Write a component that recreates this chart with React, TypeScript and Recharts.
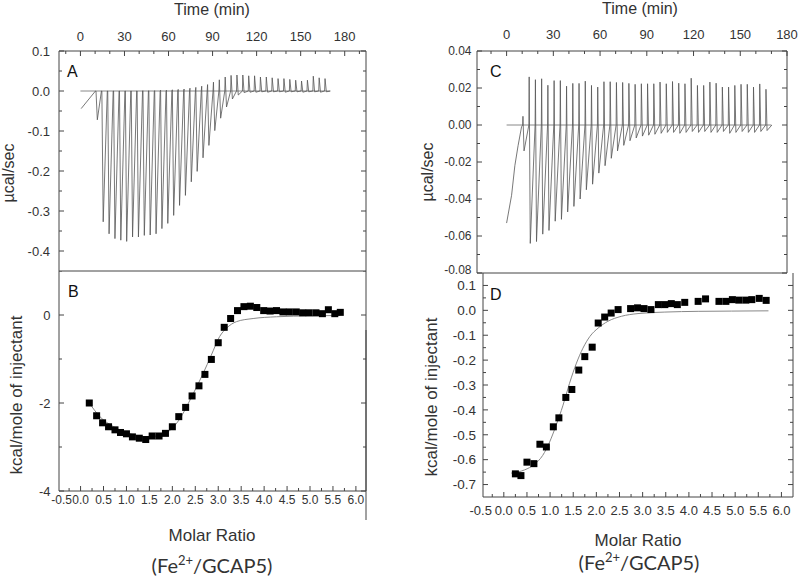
import React from "react";
import { ComposedChart, Line, Scatter, XAxis, YAxis } from "recharts";

// injection schedule (min), same for both titrations
const injectionTimes = [10.3, 14.3, 18.3, 22.3, 26.3, 30.3, 34.3, 38.3, 42.3, 46.3, 50.3, 54.3, 58.3, 62.3, 66.3, 70.3, 74.3, 78.3, 82.3, 86.3, 90.3, 94.3, 98.3, 102.3, 106.3, 110.3, 114.3, 118.3, 122.3, 126.3, 130.3, 134.3, 138.3, 142.3, 146.3, 150.3, 154.3, 158.3, 162.3, 166.3];

// panel A raw trace (µcal/sec)
const driftA = [[0.5, -0.044], [9.8, -0.002]];
const peakUpA = [0, 0, 0, 0, 0, 0, 0, 0, 0.001, 0.001, 0.001, 0.002, 0.002, 0.003, 0.004, 0.005, 0.007, 0.009, 0.012, 0.016, 0.022, 0.028, 0.035, 0.039, 0.04, 0.04, 0.038, 0.038, 0.035, 0.035, 0.033, 0.031, 0.031, 0.029, 0.027, 0.025, 0.027, 0.037, 0.033, 0.031];
const peakDownA = [-0.072, -0.327, -0.357, -0.369, -0.373, -0.376, -0.365, -0.365, -0.361, -0.36, -0.357, -0.344, -0.331, -0.311, -0.286, -0.261, -0.227, -0.201, -0.167, -0.136, -0.099, -0.068, -0.04, -0.02, -0.01, -0.004, -0.003, -0.003, -0.002, -0.003, -0.002, -0.002, -0.003, -0.002, -0.002, -0.003, -0.002, -0.002, -0.003, -0.002];

// panel C raw trace (µcal/sec)
const driftC = [[0, -0.053], [3.2, -0.038], [5.3, -0.022], [7.4, -0.011], [9.6, -0.001]];
const peakUpC = [0.0047, 0.026, 0.0245, 0.025, 0.0215, 0.024, 0.024, 0.021, 0.0225, 0.0225, 0.0237, 0.0214, 0.0205, 0.0234, 0.0234, 0.023, 0.023, 0.0225, 0.022, 0.0223, 0.0223, 0.0223, 0.0232, 0.0223, 0.0235, 0.0226, 0.0223, 0.0253, 0.0214, 0.0214, 0.0232, 0.0226, 0.0205, 0.0205, 0.0214, 0.022, 0.022, 0.0205, 0.0222, 0.0193];
const peakDownC = [-0.014, -0.064, -0.063, -0.059, -0.057, -0.052, -0.051, -0.047, -0.044, -0.04, -0.035, -0.032, -0.026, -0.022, -0.018, -0.014, -0.011, -0.0085, -0.007, -0.006, -0.0055, -0.005, -0.0045, -0.004, -0.004, -0.0045, -0.004, -0.0035, -0.004, -0.0035, -0.004, -0.004, -0.0035, -0.0045, -0.004, -0.0035, -0.004, -0.004, -0.0035, -0.003];

// panel B integrated heats (kcal/mole of injectant)
const ratioB = [0.19, 0.35, 0.48, 0.61, 0.75, 0.87, 1.0, 1.13, 1.28, 1.42, 1.56, 1.71, 1.85, 2.0, 2.14, 2.29, 2.43, 2.58, 2.71, 2.85, 3.0, 3.13, 3.27, 3.42, 3.56, 3.7, 3.84, 3.99, 4.13, 4.27, 4.41, 4.55, 4.7, 4.84, 4.98, 5.13, 5.27, 5.4, 5.54, 5.66];
const heatB = [-2.0, -2.29, -2.45, -2.54, -2.61, -2.67, -2.7, -2.77, -2.8, -2.83, -2.75, -2.75, -2.69, -2.54, -2.31, -2.1, -1.84, -1.61, -1.35, -1.01, -0.63, -0.28, -0.08, 0.1, 0.19, 0.2, 0.17, 0.1, 0.09, 0.1, 0.07, 0.07, 0.07, 0.05, 0.05, 0.05, 0.03, 0.12, 0.03, 0.06];
const fitRatioB = [0.19, 0.42, 0.72, 1.15, 1.43, 1.73, 1.95, 2.15, 2.42, 2.67, 2.85, 3.03, 3.18, 3.4, 3.76, 4.27, 5.0, 5.66];
const fitHeatB = [-2.0, -2.31, -2.54, -2.72, -2.77, -2.74, -2.62, -2.38, -1.86, -1.33, -0.91, -0.49, -0.3, -0.15, -0.08, -0.04, -0.02, -0.01];

// panel D integrated heats
const ratioD = [0.25, 0.37, 0.5, 0.65, 0.78, 0.92, 1.07, 1.19, 1.34, 1.47, 1.62, 1.75, 1.91, 2.04, 2.18, 2.32, 2.47, 2.74, 2.89, 3.03, 3.18, 3.34, 3.48, 3.62, 3.75, 3.91, 4.2, 4.36, 4.65, 4.8, 4.94, 5.08, 5.23, 5.36, 5.52, 5.67];
const heatD = [-0.657, -0.664, -0.61, -0.616, -0.538, -0.549, -0.468, -0.432, -0.35, -0.318, -0.24, -0.186, -0.148, -0.051, -0.027, -0.011, 0.003, 0.007, 0.01, 0.007, 0.003, 0.023, 0.023, 0.027, 0.023, 0.032, 0.036, 0.046, 0.036, 0.036, 0.043, 0.041, 0.041, 0.043, 0.048, 0.04];
const fitRatioD = [0.16, 0.45, 0.66, 0.84, 0.99, 1.13, 1.28, 1.42, 1.57, 1.71, 1.86, 2.04, 2.25, 2.54, 2.9, 3.48, 4.2, 4.92, 5.72];
const fitHeatD = [-0.654, -0.641, -0.619, -0.583, -0.529, -0.462, -0.381, -0.293, -0.212, -0.152, -0.105, -0.071, -0.044, -0.024, -0.013, -0.007, -0.004, -0.003, -0.002];

// tick labels
const timeTicksA = [-10, 0, 10, 20, 30, 40, 50, 60, 70, 80, 90, 100, 110, 120, 130, 140, 150, 160, 170, 180, 190];
const timeTicksC = [-10, 0, 10, 20, 30, 40, 50, 60, 70, 80, 90, 100, 110, 120, 130, 140, 150, 160, 170, 180];
const timeLabels = [0, 30, 60, 90, 120, 150, 180];
const yTicksA = [0.1, 0.05, 0, -0.05, -0.1, -0.15, -0.2, -0.25, -0.3, -0.35, -0.4];
const yLabelsA = [0.1, 0, -0.1, -0.2, -0.3, -0.4];
const yTicksB = [1, 0, -1, -2, -3, -4];
const yLabelsB = [0, -2, -4];
const yTicksC = [0.04, 0.03, 0.02, 0.01, 0, -0.01, -0.02, -0.03, -0.04, -0.05, -0.06, -0.07, -0.08];
const yLabelsC = [0.04, 0.02, 0, -0.02, -0.04, -0.06, -0.08];
const yTicksD = [0.1, 0.05, 0, -0.05, -0.1, -0.15, -0.2, -0.25, -0.3, -0.35, -0.4, -0.45, -0.5, -0.55, -0.6, -0.65, -0.7];
const yLabelsD = [0.1, 0, -0.1, -0.2, -0.3, -0.4, -0.5, -0.6, -0.7];
const ratioTicks = [-0.5, -0.25, 0, 0.25, 0.5, 0.75, 1, 1.25, 1.5, 1.75, 2, 2.25, 2.5, 2.75, 3, 3.25, 3.5, 3.75, 4, 4.25, 4.5, 4.75, 5, 5.25, 5.5, 5.75, 6];
const ratioLabels = [-0.5, 0, 0.5, 1, 1.5, 2, 2.5, 3, 3.5, 4, 4.5, 5, 5.5, 6];

const FRAME = "#444";
const TXT = "#333";
const FONT = "'Liberation Sans', Arial, sans-serif";

type Side = "top" | "bottom" | "left" | "right";
type Dom = [number, number];

// inward tick marks (Origin style); labels sitting on the frame edge can be nudged
function makeTick(side: Side, labels: number[], dom: Dom, gap: number, fmt: ((v: number) => string) | null, fontSize = 13, edgeShift = 0) {
  return (props: any) => {
    const x = Number(props.x);
    const y = Number(props.y);
    const v = Number(props.payload?.value);
    const major = labels.some((m) => Math.abs(m - v) < 1e-6);
    const len = major ? 5 : 3;
    const inside = v >= dom[0] - 1e-9 && v <= dom[1] + 1e-9;
    const label = major && fmt ? fmt(v) : "";
    const ts = { fill: TXT, fontSize, fontFamily: FONT, stroke: "none" };
    let ln: any = null;
    let tx: any = null;
    if (side === "left") {
      const ax = x + gap;
      const ly = Math.abs(v - dom[0]) < 1e-9 ? y - edgeShift : y;
      if (inside) ln = <line x1={ax} y1={y} x2={ax + len} y2={y} />;
      if (label) tx = <text x={x} y={ly} dy="0.35em" textAnchor="end" {...ts}>{label}</text>;
    } else if (side === "right") {
      if (inside) ln = <line x1={x} y1={y} x2={x - len} y2={y} />;
    } else if (side === "top") {
      const ax = y + gap;
      if (inside) ln = <line x1={x} y1={ax} x2={x} y2={ax + len} />;
      if (label) tx = <text x={x} y={y} textAnchor="middle" {...ts}>{label}</text>;
    } else {
      const ax = y - gap;
      if (inside) ln = <line x1={x} y1={ax} x2={x} y2={ax - len} />;
      if (label) tx = <text x={inside ? x : x + edgeShift} y={y} dy="0.71em" textAnchor="middle" {...ts}>{label}</text>;
    }
    return (
      <g>
        {ln ? <g stroke={FRAME} strokeWidth={1}>{ln}</g> : null}
        {tx}
      </g>
    );
  };
}

function buildTrace(drift: number[][], up: number[], down: number[], riseAt: number, dropAt: number) {
  const pts = drift.map(([t, v]) => ({ t, v }));
  injectionTimes.forEach((t0, i) => {
    pts.push({ t: t0, v: 0 });
    pts.push({ t: t0 + riseAt, v: up[i] });
    pts.push({ t: t0 + dropAt, v: down[i] });
  });
  pts.push({ t: injectionTimes[injectionTimes.length - 1] + 4, v: 0 });
  return pts;
}

const traceA = buildTrace(driftA, peakUpA, peakDownA, 0.3, 1.2);
const traceC = buildTrace(driftC, peakUpC, peakDownC, 0.2, 0.9);
const baseline = [{ t: 0, v: 0 }, { t: 170, v: 0 }];
const pointsB = ratioB.map((x, i) => ({ x, y: heatB[i] }));
const fitB = fitRatioB.map((x, i) => ({ x, y: fitHeatB[i] }));
const pointsD = ratioD.map((x, i) => ({ x, y: heatD[i] }));
const fitD = fitRatioD.map((x, i) => ({ x, y: fitHeatD[i] }));

type Plot = { l: number; r: number; t: number; b: number };

const square = (p: any) => <rect x={p.cx - 3.5} y={p.cy - 3.5} width={7} height={7} fill="#000" />;

function RawPanel(p: {
  left: number; top: number; height: number; plot: Plot; tDom: Dom; tTicks: number[]; tGap: number; lift: number;
  yDom: Dom; yTicks: number[]; yLabels: number[]; yGap: number; yFmt: (v: number) => string; trace: any[]; fs: number;
}) {
  const { plot } = p;
  return (
    <div style={{ position: "absolute", left: p.left, top: p.top }}>
      <ComposedChart width={400} height={p.height} margin={{ top: 0, right: 0, bottom: 0, left: 0 }}>
        <XAxis xAxisId="t" orientation="top" type="number" dataKey="t" domain={p.tDom} allowDataOverflow ticks={p.tTicks} interval={0}
          tickSize={0} tickMargin={p.tGap} tickLine={false} axisLine={{ stroke: FRAME }} height={plot.t - p.top}
          tick={makeTick("top", timeLabels, p.tDom, p.tGap, (v) => String(v), 13)} />
        <XAxis xAxisId="b" orientation="bottom" type="number" dataKey="t" domain={p.tDom} allowDataOverflow tick={false}
          tickLine={false} axisLine={{ stroke: FRAME }} height={p.top + p.height - plot.b} />
        <YAxis yAxisId="l" orientation="left" type="number" domain={p.yDom} allowDataOverflow ticks={p.yTicks} interval={0}
          tickSize={0} tickMargin={p.yGap} tickLine={false} axisLine={{ stroke: FRAME }} width={plot.l - p.left}
          tick={makeTick("left", p.yLabels, p.yDom, p.yGap, p.yFmt, p.fs, p.lift)} />
        <YAxis yAxisId="r" orientation="right" type="number" domain={p.yDom} allowDataOverflow ticks={p.yTicks} interval={0}
          tickSize={0} tickMargin={0} tickLine={false} axisLine={{ stroke: FRAME }} width={p.left + 400 - plot.r}
          tick={makeTick("right", p.yLabels, p.yDom, 0, null)} />
        <Line xAxisId="t" yAxisId="l" data={baseline} dataKey="v" stroke="#888" strokeWidth={1} dot={false} isAnimationActive={false} />
        <Line xAxisId="t" yAxisId="l" data={p.trace} dataKey="v" type="linear" stroke="#555" strokeWidth={0.8} dot={false} isAnimationActive={false} />
      </ComposedChart>
    </div>
  );
}

function FitPanel(p: {
  left: number; top: number; height: number; plot: Plot; xDom: Dom; xGap: number; edgeShift: number; xfs: number;
  yDom: Dom; yTicks: number[]; yLabels: number[]; yGap: number; yFmt: (v: number) => string; points: any[]; fit: any[]; fs: number;
}) {
  const { plot } = p;
  return (
    <div style={{ position: "absolute", left: p.left, top: p.top }}>
      <ComposedChart width={400} height={p.height} margin={{ top: 0, right: 0, bottom: 0, left: 0 }}>
        <XAxis xAxisId="t" orientation="top" type="number" dataKey="x" domain={p.xDom} allowDataOverflow ticks={ratioTicks} interval={0}
          tickSize={0} tickMargin={0} tickLine={false} axisLine={{ stroke: FRAME }} height={plot.t - p.top}
          tick={makeTick("top", ratioLabels, p.xDom, 0, null)} />
        <XAxis xAxisId="b" orientation="bottom" type="number" dataKey="x" domain={p.xDom} allowDataOverflow ticks={ratioTicks} interval={0}
          tickSize={0} tickMargin={p.xGap} tickLine={false} axisLine={{ stroke: FRAME }} height={p.top + p.height - plot.b}
          tick={makeTick("bottom", ratioLabels, p.xDom, p.xGap, (v) => v.toFixed(1), p.xfs, p.edgeShift)} />
        <YAxis yAxisId="l" orientation="left" type="number" dataKey="y" domain={p.yDom} allowDataOverflow ticks={p.yTicks} interval={0}
          tickSize={0} tickMargin={p.yGap} tickLine={false} axisLine={{ stroke: FRAME }} width={plot.l - p.left}
          tick={makeTick("left", p.yLabels, p.yDom, p.yGap, p.yFmt, p.fs)} />
        <YAxis yAxisId="r" orientation="right" type="number" dataKey="y" domain={p.yDom} allowDataOverflow ticks={p.yTicks} interval={0}
          tickSize={0} tickMargin={0} tickLine={false} axisLine={{ stroke: FRAME }} width={p.left + 400 - plot.r}
          tick={makeTick("right", p.yLabels, p.yDom, 0, null)} />
        <Line xAxisId="b" yAxisId="l" data={p.fit} dataKey="y" type="monotone" stroke="#888" strokeWidth={1} dot={false} isAnimationActive={false} />
        <Scatter xAxisId="b" yAxisId="l" data={p.points} dataKey="y" shape={square} isAnimationActive={false} />
      </ComposedChart>
    </div>
  );
}

const TITLE = { fill: TXT, fontFamily: FONT };

export default function App() {
  return (
    <div style={{ position: "absolute", left: 0, top: 0, width: 800, height: 579, background: "#fff", overflow: "hidden" }}>
      <RawPanel left={0} top={0} height={281} plot={{ l: 59, r: 366, t: 51, b: 271 }} tDom={[-14.6, 194.5]} tTicks={timeTicksA} tGap={10} lift={0}
        yDom={[-0.45, 0.1]} yTicks={yTicksA} yLabels={yLabelsA} yGap={9} yFmt={(v) => v.toFixed(1)} trace={traceA} fs={13} />
      <FitPanel left={0} top={271} height={250} plot={{ l: 59, r: 366, t: 271, b: 491 }} xDom={[-0.47, 6.22]} xGap={4} edgeShift={4} xfs={12}
        yDom={[-4, 1]} yTicks={yTicksB} yLabels={yLabelsB} yGap={8.5} yFmt={(v) => String(v)} points={pointsB} fit={fitB} fs={13} />
      <RawPanel left={400} top={0} height={283} plot={{ l: 477, r: 787, t: 51, b: 273 }} tDom={[-19, 180]} tTicks={timeTicksC} tGap={12.5} lift={3}
        yDom={[-0.08, 0.04]} yTicks={yTicksC} yLabels={yLabelsC} yGap={5.5} yFmt={(v) => v.toFixed(2)} trace={traceC} fs={12} />
      <FitPanel left={400} top={273} height={250} plot={{ l: 483, r: 793, t: 273, b: 497 }} xDom={[-0.45, 6.25]} xGap={8.5} edgeShift={0} xfs={13}
        yDom={[-0.75, 0.15]} yTicks={yTicksD} yLabels={yLabelsD} yGap={7} yFmt={(v) => v.toFixed(1)} points={pointsD} fit={fitD} fs={13.5} />

      <svg width={800} height={579} style={{ position: "absolute", left: 0, top: 0, pointerEvents: "none" }}>
        <line x1={366} y1={330} x2={366} y2={520} stroke={FRAME} strokeWidth={1} />
        <text x={212} y={14.5} fontSize={16} textAnchor="middle" {...TITLE}>Time (min)</text>
        <text x={640} y={13.5} fontSize={16} textAnchor="middle" {...TITLE}>Time (min)</text>
        <text transform="translate(14,173) rotate(-90)" fontSize={16} textAnchor="middle" {...TITLE}>µcal/sec</text>
        <text transform="translate(433,172) rotate(-90)" fontSize={16} textAnchor="middle" {...TITLE}>µcal/sec</text>
        <text transform="translate(22,395) rotate(-90)" fontSize={17} textAnchor="middle" {...TITLE}>kcal/mole of injectant</text>
        <text transform="translate(437,397) rotate(-90)" fontSize={17} textAnchor="middle" {...TITLE}>kcal/mole of injectant</text>
        <text x={212} y={541} fontSize={17} textAnchor="middle" {...TITLE}>Molar Ratio</text>
        <text x={638} y={546} fontSize={17} textAnchor="middle" {...TITLE}>Molar Ratio</text>
        <text x={212} y={573} fontSize={20} textAnchor="middle" fill={TXT} fontFamily="Lato, 'Open Sans', sans-serif">
          (Fe<tspan fontSize={13} dy={-8}>2+</tspan><tspan dy={8}>/GCAP5)</tspan>
        </text>
        <text x={639} y={570} fontSize={20} textAnchor="middle" fill={TXT} fontFamily="Lato, 'Open Sans', sans-serif">
          (Fe<tspan fontSize={13} dy={-8}>2+</tspan><tspan dy={8}>/GCAP5)</tspan>
        </text>
        <text x={67} y={77} fontSize={16} fill="#111" fontFamily={FONT}>A</text>
        <text x={68} y={297} fontSize={16} fill="#111" fontFamily={FONT}>B</text>
        <text x={490} y={77} fontSize={16} fill="#111" fontFamily={FONT}>C</text>
        <text x={490} y={300} fontSize={16} fill="#111" fontFamily={FONT}>D</text>
      </svg>
    </div>
  );
}
